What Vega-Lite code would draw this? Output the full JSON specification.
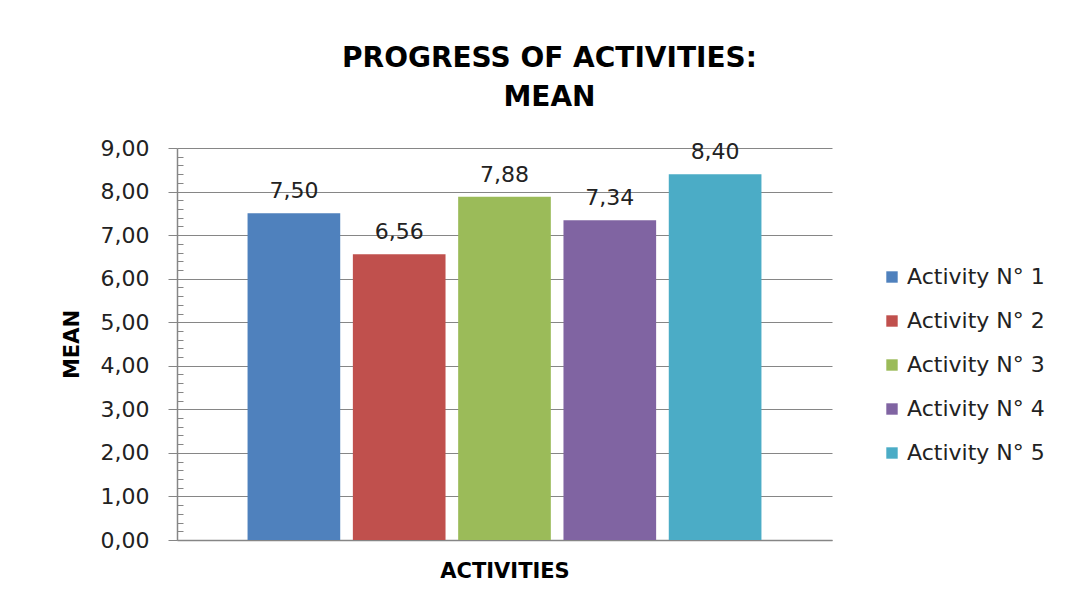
{
  "$schema": "https://vega.github.io/schema/vega-lite/v6.json",
  "autosize": {"type": "none"},
  "padding": {"left": 177, "top": 148, "right": 243, "bottom": 62},
  "width": 655,
  "height": 392,
  "background": "white",
  "title": {
    "text": ["PROGRESS OF ACTIVITIES:", "MEAN"],
    "font": "DejaVu Sans",
    "fontWeight": "bold",
    "fontSize": 28,
    "color": "#000000",
    "anchor": "middle",
    "frame": "group",
    "dx": 45,
    "offset": 25,
    "lineHeight": 39
  },
  "data": {
    "values": [
      {"activity": "Activity N° 1", "mean": 7.50},
      {"activity": "Activity N° 2", "mean": 6.56},
      {"activity": "Activity N° 3", "mean": 7.88},
      {"activity": "Activity N° 4", "mean": 7.34},
      {"activity": "Activity N° 5", "mean": 8.40}
    ]
  },
  "encoding": {
    "x": {
      "field": "activity",
      "type": "nominal",
      "sort": null,
      "scale": {"paddingInner": 0.12, "paddingOuter": 0.67},
      "axis": {
        "title": "ACTIVITIES",
        "labels": false,
        "ticks": false,
        "domainColor": "#868686",
        "domainWidth": 1.5,
        "titleFont": "DejaVu Sans",
        "titleFontWeight": "bold",
        "titleFontSize": 21,
        "titleColor": "#000000",
        "titlePadding": 20,
        "titleAnchor": "middle"
      }
    }
  },
  "layer": [
    {
      "mark": {"type": "bar"},
      "encoding": {
        "y": {
          "field": "mean",
          "type": "quantitative",
          "scale": {"domain": [0, 9], "nice": false},
          "axis": {
            "title": "MEAN",
            "values": [0, 1, 2, 3, 4, 5, 6, 7, 8, 9],
            "format": ".2f",
            "grid": true,
            "gridColor": "#868686",
            "gridWidth": 1,
            "domainColor": "#868686",
            "domainWidth": 1.5,
            "tickColor": "#868686",
            "tickSize": 9,
            "labelPadding": 19,
            "labelFont": "DejaVu Sans",
            "labelFontSize": 22,
            "labelColor": "#222222",
            "titleFont": "DejaVu Sans",
            "titleFontWeight": "bold",
            "titleFontSize": 21,
            "titleColor": "#000000",
            "titlePadding": 18
          }
        },
        "color": {
          "field": "activity",
          "type": "nominal",
          "scale": {
            "domain": ["Activity N° 1", "Activity N° 2", "Activity N° 3", "Activity N° 4", "Activity N° 5"],
            "range": ["#4F81BD", "#C0504D", "#9BBB59", "#8064A2", "#4BACC6"]
          },
          "legend": {
            "title": null,
            "orient": "none",
            "legendX": 704,
            "legendY": 118,
            "padding": 0,
            "symbolType": "square",
            "symbolSize": 130,
            "symbolStrokeWidth": 0,
            "labelFont": "DejaVu Sans",
            "labelFontSize": 22,
            "labelColor": "#222222",
            "labelOffset": 4,
            "rowPadding": 22
          }
        }
      }
    },
    {
      "mark": {"type": "text", "baseline": "alphabetic", "dy": -15, "font": "DejaVu Sans", "fontSize": 22, "color": "#222222"},
      "encoding": {
        "y": {
          "field": "mean",
          "type": "quantitative",
          "axis": {
            "orient": "left",
            "title": null,
            "labels": false,
            "domain": false,
            "grid": false,
            "tickColor": "#868686",
            "tickSize": -6,
            "values": [0.2, 0.4, 0.6, 0.8, 1.2, 1.4, 1.6, 1.8, 2.2, 2.4, 2.6, 2.8, 3.2, 3.4, 3.6, 3.8, 4.2, 4.4, 4.6, 4.8, 5.2, 5.4, 5.6, 5.8, 6.2, 6.4, 6.6, 6.8, 7.2, 7.4, 7.6, 7.8, 8.2, 8.4, 8.6, 8.8]
          }
        },
        "text": {"field": "mean", "type": "quantitative", "format": ".2f"}
      }
    }
  ],
  "resolve": {"axis": {"y": "independent"}},
  "config": {
    "view": {"stroke": null},
    "locale": {
      "number": {"decimal": ",", "thousands": ".", "grouping": [3], "currency": ["", " €"]}
    }
  }
}
